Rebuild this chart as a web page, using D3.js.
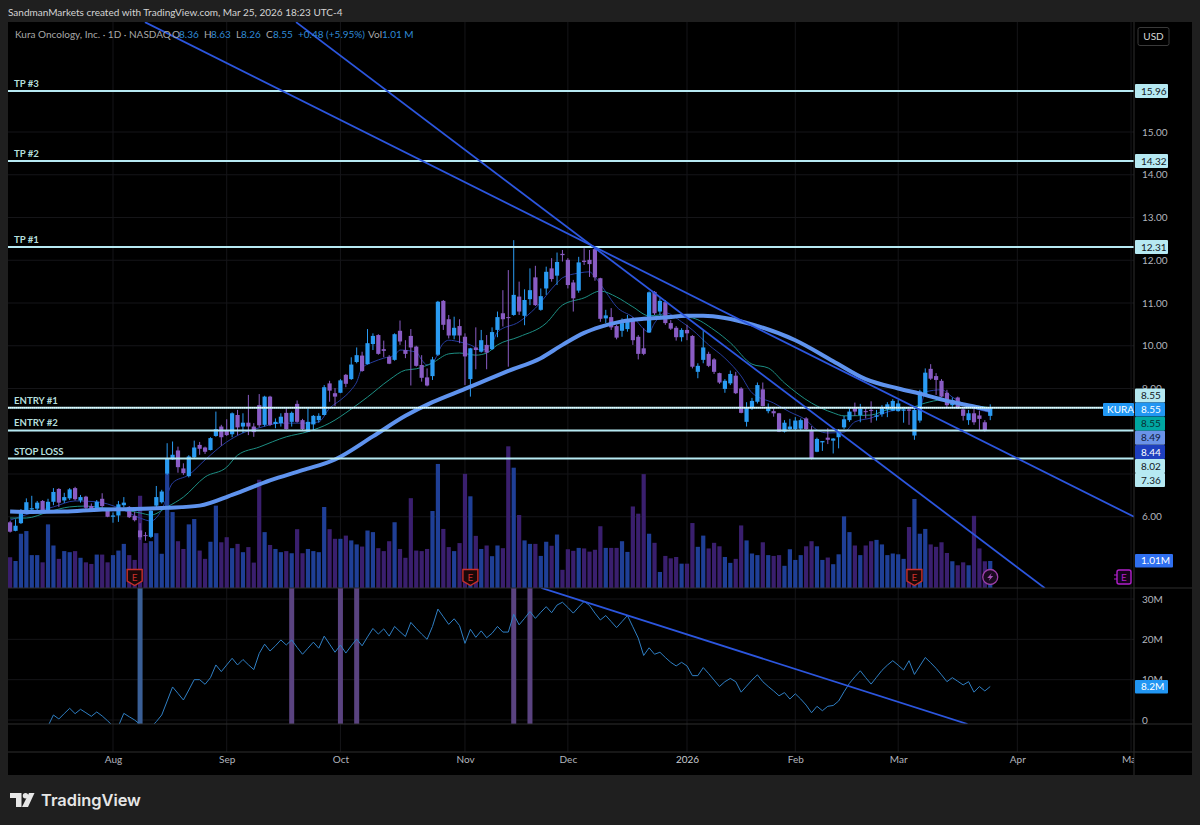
<!DOCTYPE html>
<html>
<head>
<meta charset="utf-8">
<title>KURA</title>
<script src="https://cdn.jsdelivr.net/npm/d3@7"></script>
<style>
  html, body { margin: 0; padding: 0; background: #1f1f1f; }
  svg { display: block; }
  text { font-family: Lato, sans-serif; }
</style>
</head>
<body>
<div id="chart"></div>
<script>
// Daily candles, first bar is Jul 7 2025, last is Mar 25 2026
var opens = [
  5.87,5.67,5.85,6.13,6.17,6.19,6.37,6.13,6.35,6.65,
  6.38,6.43,6.67,6.38,6.47,6.25,6.17,6.42,6.17,6.00,
  6.03,6.27,6.23,6.02,5.68,5.57,5.53,6.26,6.34,7.01,
  7.34,7.55,7.13,6.95,7.39,7.68,7.62,7.56,7.89,8.11,
  8.01,7.93,8.38,8.11,8.20,8.11,8.61,8.15,8.81,8.17,
  8.19,8.43,8.22,8.64,8.26,7.99,8.16,8.26,8.38,9.12,
  8.89,8.90,9.32,9.22,9.62,9.77,9.57,10.04,10.25,9.92,
  9.74,9.67,10.35,9.90,10.23,9.98,9.55,9.26,9.29,9.79,
  11.05,10.62,10.24,10.46,10.21,9.22,9.96,9.86,10.02,9.92,
  10.37,10.76,10.67,10.72,11.15,10.70,11.09,11.60,10.84,11.34,
  11.81,11.64,12.15,12.01,11.48,11.29,11.99,12.01,12.26,11.58,
  10.64,10.67,10.46,10.35,10.39,10.59,10.21,9.94,10.31,11.26,
  10.80,11.02,10.53,10.42,10.20,10.37,10.23,9.39,9.67,9.81,
  9.68,9.36,8.99,9.12,9.30,9.00,8.22,8.54,8.69,8.98,
  8.47,8.47,8.42,7.99,8.05,8.05,8.06,8.30,8.03,7.52,
  7.74,7.85,7.78,7.86,8.09,8.26,8.54,8.38,8.47,8.50,
  8.34,8.40,8.51,8.48,8.47,8.48,8.51,7.90,8.25,8.85,
  9.46,9.29,9.18,8.90,8.61,8.79,8.51,8.26,8.42,8.37,
  8.21,8.36];
var highs = [
  5.90,5.94,6.18,6.43,6.49,6.37,6.39,6.42,6.67,6.67,
  6.56,6.67,6.70,6.51,6.49,6.31,6.39,6.55,6.20,6.10,
  6.37,6.46,6.25,6.12,5.85,5.64,6.16,6.72,6.63,7.72,
  7.76,7.64,7.25,7.44,7.78,7.75,7.64,7.86,8.46,8.15,
  8.28,8.44,8.50,8.42,8.85,8.19,8.87,8.83,8.83,8.30,
  8.42,8.54,8.46,8.72,8.29,8.54,8.38,8.42,9.08,9.18,
  9.01,9.22,9.34,9.73,9.96,9.86,10.39,10.29,10.27,10.12,
  9.78,10.29,10.59,10.13,10.39,10.00,9.78,9.47,9.74,11.05,
  11.07,10.72,10.68,10.62,10.29,9.95,10.43,10.37,10.25,10.43,
  10.80,11.30,11.77,12.47,11.50,11.32,11.81,11.87,11.34,11.85,
  12.05,12.18,12.24,12.05,11.54,12.08,12.28,12.24,12.29,11.59,
  10.84,10.88,10.49,10.64,10.72,10.67,10.25,10.41,11.27,11.28,
  11.11,11.07,10.60,10.46,10.41,10.49,10.25,9.59,10.37,9.86,
  9.71,9.37,9.22,9.42,9.39,9.03,8.68,8.78,9.14,9.14,
  8.65,8.57,8.43,8.26,8.29,8.33,8.30,8.33,8.12,7.85,
  7.77,8.07,7.84,8.05,8.36,8.54,8.67,8.64,8.54,8.70,
  8.50,8.61,8.68,8.75,8.73,8.57,8.57,8.59,8.97,9.47,
  9.57,9.36,9.22,8.97,8.79,8.81,8.57,8.50,8.54,8.48,
  8.26,8.63];
var lows = [
  5.63,5.66,5.83,6.12,6.14,6.14,6.10,6.10,6.27,6.23,
  6.32,6.39,6.38,6.33,6.17,6.14,6.14,6.20,5.99,5.86,
  5.88,6.22,5.97,5.89,5.46,5.44,5.50,6.22,6.31,6.98,
  7.33,7.03,6.98,6.92,7.36,7.45,7.47,7.55,7.87,7.66,
  7.89,7.86,7.91,7.96,7.91,7.87,8.09,8.11,8.12,8.07,
  8.11,8.04,8.11,8.20,8.03,7.98,8.03,8.20,8.37,8.69,
  8.59,8.89,9.03,9.20,9.59,9.39,9.56,9.90,9.79,9.73,
  9.57,9.65,10.02,9.71,9.07,9.51,9.16,9.05,9.20,9.76,
  10.37,10.17,10.15,10.06,9.08,8.81,9.45,9.84,9.45,9.90,
  10.20,10.45,9.51,10.70,10.72,10.48,10.95,10.93,10.82,11.19,
  11.50,11.42,11.97,11.34,10.80,11.24,11.89,11.61,11.52,10.56,
  10.53,10.37,10.15,10.21,10.33,10.02,9.68,9.78,10.30,10.72,
  10.72,10.49,10.37,10.12,10.10,10.13,9.47,9.24,9.59,9.50,
  9.34,9.11,8.90,9.08,8.87,8.42,8.11,8.50,8.65,8.58,
  8.42,8.34,7.98,7.97,8.03,8.01,8.03,8.03,7.34,7.51,
  7.54,7.70,7.48,7.60,8.05,8.22,8.36,8.21,8.30,8.20,
  8.25,8.34,8.33,8.47,8.46,8.20,8.15,7.80,8.20,8.81,
  9.20,8.85,8.80,8.54,8.57,8.52,8.25,8.15,8.15,8.03,
  7.99,8.26];
var closes = [
  5.65,5.79,6.10,6.34,6.20,6.33,6.11,6.35,6.58,6.33,
  6.46,6.64,6.41,6.46,6.21,6.17,6.35,6.25,6.00,6.03,
  6.29,6.33,5.99,5.92,5.52,5.55,6.14,6.46,6.59,7.36,
  7.45,7.16,7.02,7.41,7.62,7.59,7.52,7.84,8.05,7.86,
  7.91,8.42,8.09,8.20,8.11,7.98,8.14,8.81,8.15,8.22,
  8.34,8.05,8.43,8.22,8.05,8.22,8.36,8.36,9.03,8.95,
  8.81,9.19,9.11,9.56,9.78,9.41,10.06,10.23,9.81,9.88,
  9.58,10.27,10.10,9.81,9.96,9.53,9.25,9.07,9.68,11.03,
  10.49,10.24,10.42,10.24,9.75,9.94,9.90,10.13,9.84,10.32,
  10.67,10.62,10.65,11.19,10.80,11.07,11.30,10.95,11.16,11.73,
  11.56,11.96,12.12,11.42,11.11,11.95,11.96,11.91,11.60,10.63,
  10.71,10.43,10.19,10.53,10.62,10.13,9.81,9.81,11.25,10.76,
  11.05,10.53,10.40,10.20,10.37,10.29,9.51,9.53,9.96,9.53,
  9.39,9.14,9.18,9.34,8.89,8.43,8.56,8.71,9.08,8.59,
  8.54,8.42,7.99,8.20,8.11,8.25,8.26,8.05,7.35,7.82,
  7.77,7.80,7.83,7.99,8.28,8.46,8.46,8.53,8.45,8.48,
  8.37,8.54,8.63,8.71,8.65,8.51,8.48,8.50,8.93,9.37,
  9.23,9.20,8.81,8.61,8.73,8.54,8.36,8.42,8.21,8.29,
  8.01,8.55];
// Volume in millions of shares
var volumes = [
  1.15,1.01,2.03,2.13,1.23,1.23,0.96,2.38,1.59,1.09,
  1.38,1.34,1.38,1.13,0.96,0.90,1.25,1.25,0.96,1.23,
  1.40,1.65,1.23,1.05,3.45,1.68,1.75,2.05,1.28,4.30,
  2.84,1.75,1.46,2.38,2.58,1.40,1.09,1.73,3.08,1.71,
  1.90,1.49,1.65,1.34,1.53,0.95,4.05,2.09,1.61,1.46,
  1.34,1.38,1.30,2.20,1.30,1.46,1.38,1.34,3.03,2.20,
  1.84,1.84,1.96,1.78,1.63,1.55,2.15,2.09,1.49,1.38,
  1.75,2.46,1.46,1.13,3.36,1.40,1.38,1.46,2.88,4.64,
  2.21,1.53,1.38,1.68,4.27,3.43,1.95,1.46,1.59,1.19,
  1.59,1.49,5.30,4.50,2.73,1.78,1.65,1.65,1.20,1.73,
  1.58,2.00,0.68,1.45,1.39,1.50,1.48,1.36,1.43,2.31,
  1.50,1.50,1.50,1.75,1.35,3.05,2.78,4.26,2.03,1.69,
  0.60,1.20,1.11,1.16,0.91,0.91,2.43,1.54,1.96,1.48,
  1.69,1.56,1.16,0.94,1.09,2.34,1.78,1.29,1.23,1.71,
  1.23,1.20,1.23,0.83,1.45,1.05,1.23,1.56,1.75,1.56,
  1.05,1.14,0.89,1.26,2.68,2.09,1.59,1.23,1.59,1.75,
  1.80,1.63,1.23,1.29,1.26,1.09,2.28,3.33,2.03,2.21,
  1.63,1.54,1.71,1.31,1.00,0.85,0.96,0.85,2.70,1.48,
  1.00,1.01];
// Lower pane line, in millions. Starts at bar 7
var lowerPane = [
  null,null,null,null,null,null,null,
  -1.5,1.24,0.25,1.6,2.9,1.57,2.65,1.8,0.91,1.99,1.0,-0.2,
  -1.5,-1.5,1.65,0.8,0,-1.1,-3.4,-1.74,-0.4,1.24,4.7,8.19,
  6.6,4.96,7.44,10.0,10.0,8.85,10.5,13.65,12.0,13.65,15.3,13.65,
  15.0,13.7,12.5,16.5,18.8,17.1,18.4,19.85,18.6,19.85,18.0,16.3,
  17.8,19.3,17.8,20.8,18.8,16.8,18.6,16.6,18.4,20.1,18.4,20.6,
  22.7,21.3,22.6,20.8,23.2,21.9,20.7,24.2,22.7,21.3,20.0,23.2,
  27.5,25.6,23.7,25.1,23.4,19.0,22.5,20.5,22.1,20.4,21.5,23.2,
  21.8,21.8,26.2,23.6,25.2,26.9,25.2,26.7,28.1,26.6,28.5,29.2,
  27.9,26.5,28.0,29.4,28.4,26.5,24.8,25.9,24.4,22.9,24.4,25.9,
  23.1,20.3,16.0,17.9,16.3,16.8,15.5,14.3,13.4,14.3,13.4,11.0,
  11.0,13.0,11.5,9.9,8.3,9.5,10.3,9.5,6.9,8.4,9.9,11.2,9.5,8.3,
  7.2,6.0,6.8,5.2,6.5,5.2,3.7,1.8,3.4,2.3,3.4,3.6,4.7,7.0,9.1,
  10.7,12.2,10.5,8.9,10.6,12.3,13.6,14.7,13.6,12.4,14.7,11.3,13.4,
  15.5,14.2,12.8,11.2,9.5,10.5,9.6,8.7,9.5,6.9,8.3,7.2,8.3];

// Moving averages at these bars
var maShortBars = [0,4,8,12,16,20,24,26,28,30,33,36,40,43,46,50,55,57,59,61,63,64,65,67,69,71,72,75,76,77,78,80,81,83,85,87,89,90,94,97,101,102,105,107,108,110,112,115,118,119,121,124,126,129,132,135,137,141,144,147,149,151,154,156,159,162,166,168,169,172,174,177,181];
var maShort = [5.92,6.09,6.23,6.37,6.35,6.21,5.97,5.90,6.16,6.79,6.98,7.33,7.75,7.96,8.08,8.19,8.19,8.22,8.54,8.73,8.97,9.15,9.48,9.62,9.71,9.78,9.90,9.85,9.67,9.55,9.60,10.06,10.13,10.09,10.02,9.90,10.06,10.32,10.56,10.88,11.47,11.59,11.70,11.73,11.61,11.26,10.91,10.67,10.32,10.53,10.77,10.56,10.37,10.02,9.71,9.29,8.90,8.66,8.45,8.26,8.03,7.96,7.98,8.22,8.31,8.45,8.54,8.54,8.92,8.97,8.80,8.59,8.44];
var maMidBars = [0,3,7,11,14,17,20,24,26,29,32,36,40,42,46,51,55,59,63,66,70,73,75,78,81,83,86,88,90,94,99,102,106,109,112,115,118,120,122,126,130,133,137,140,143,148,152,154,159,162,166,169,172,176,181];
var maMid = [5.97,5.97,6.11,6.23,6.25,6.21,6.18,6.09,6.04,6.23,6.46,6.93,7.16,7.44,7.63,7.87,7.99,8.19,8.52,8.80,9.20,9.43,9.46,9.60,9.81,9.83,9.78,9.83,10.02,10.21,10.53,10.95,11.12,11.28,11.14,10.91,10.70,10.72,10.70,10.65,10.37,10.07,9.57,9.48,9.13,8.66,8.43,8.36,8.38,8.50,8.54,8.66,8.73,8.64,8.55];
var maLongBars = [0,4,10,17,23,29,35,41,48,54,60,67,73,78,84,88,92,98,102,106,109,113,117,121,125,128,132,137,145,152,158,164,168,173,178,181];
var maLong = [6.12,6.11,6.12,6.17,6.18,6.21,6.26,6.51,6.85,7.09,7.34,7.88,8.36,8.68,8.99,9.20,9.41,9.71,10.02,10.30,10.44,10.57,10.63,10.66,10.70,10.70,10.65,10.50,10.13,9.64,9.22,9.00,8.88,8.71,8.58,8.49];

// Horizontal levels drawn on the chart
var levelNames = ["TP #3", "TP #2", "TP #1", "ENTRY #1", "ENTRY #2", "STOP LOSS"];
var levelPrices = [15.96, 14.32, 12.31, 8.55, 8.02, 7.36];

// Trend lines: bar and price at each end
var trendBarsA = [24.9, 207.55];
var trendPricesA = [17.57, 6.00];
var trendBarsB = [52.8, 191.1];
var trendPricesB = [17.57, 4.33];
var lowerTrendBars = [98.1, 176.8];
var lowerTrendValues = [32.75, -1];

// Axis ticks, 7 and 8 have a grid line but their labels sit behind the tags
var priceGrid = [6, 7, 8, 9, 10, 11, 12, 13, 14, 15];
var priceTicks = [6, 9, 10, 11, 12, 13, 14, 15];
var lowerTicks = [0, 10, 20, 30];
var lowerTickLabels = ["0", "10M", "20M", "30M"];
var timeBars = [19, 40, 61, 84, 103, 125, 145, 164, 186, 207];
var timeLabels = ["Aug", "Sep", "Oct", "Nov", "Dec", "2026", "Feb", "Mar", "Apr", "May"];

// Highlighted bars in the lower pane, and earnings flags
var highlightBars = [24, 52, 61, 64, 93, 96];
var highlightColors = ["#3a5f96", "#5a4380", "#5a4380", "#5a4380", "#5a4380", "#5a4380"];
var earningsBars = [23, 85, 167];

// Last value tags on the price axis
var tagValues = ["8.55", "8.55", "8.55", "8.49", "8.44", "8.02", "7.36"];
var tagFills = ["#b6e9f2", "#2196f3", "#00a7a2", "#6b93e8", "#1e3fbf", "#b6e9f2", "#b6e9f2"];
var tagInks = ["#131722", "#ffffff", "#0a2f33", "#101a3a", "#ffffff", "#131722", "#131722"];

var width = 1200, height = 825;
var paneLeft = 8, paneRight = 1134, frameRight = 1192;
var paneTop = 22, volBottom = 588, lowerBottom = 724, timeTop = 752, frameBottom = 775;

var upColor = "#2a9bf2", downColor = "#8a5cc4";
var volUp = "#1f3f96", volDown = "#3a1f6e";
var levelColor = "#b6e9f2", trendColor = "#2c56de";
var labelColor = "#b2b5be";
var fontSize = 10;

var svg = d3.select("#chart").append("svg").attr("width", width).attr("height", height);

// Scales
var x = d3.scaleLinear().domain([19, 125]).range([113, 687]);
var y = d3.scaleLinear().domain([15, 6]).range([132, 516.75]);
var volY = d3.scaleLinear().domain([0, 1.01]).range([volBottom, 561]);
var lowerY = d3.scaleLinear().domain([0, 30]).range([720, 599]);

// Chart frame
svg.append("rect").attr("x", paneLeft).attr("y", paneTop)
  .attr("width", frameRight - paneLeft).attr("height", frameBottom - paneTop).attr("fill", "#000");

var defs = svg.append("defs");
defs.append("clipPath").attr("id", "mainClip").append("rect")
  .attr("x", paneLeft).attr("y", paneTop).attr("width", paneRight - paneLeft).attr("height", volBottom - paneTop);
defs.append("clipPath").attr("id", "lowerClip").append("rect")
  .attr("x", paneLeft).attr("y", volBottom).attr("width", paneRight - paneLeft).attr("height", lowerBottom - volBottom);
defs.append("clipPath").attr("id", "timeClip").append("rect")
  .attr("x", paneLeft).attr("y", -4).attr("width", paneRight - paneLeft).attr("height", 23);

// Grid
var grid = svg.append("g").attr("stroke", "#151518").attr("stroke-width", 1);
grid.selectAll(".gv").data(timeBars).enter().append("line")
  .attr("x1", d => x(d)).attr("x2", d => x(d)).attr("y1", paneTop).attr("y2", timeTop);
grid.selectAll(".gh").data(priceGrid).enter().append("line")
  .attr("x1", paneLeft).attr("x2", paneRight).attr("y1", d => y(d)).attr("y2", d => y(d));
grid.selectAll(".gl").data(lowerTicks).enter().append("line")
  .attr("x1", paneLeft).attr("x2", paneRight).attr("y1", d => lowerY(d)).attr("y2", d => lowerY(d));

// Main pane
var main = svg.append("g").attr("clip-path", "url(#mainClip)");

main.selectAll(".vol").data(volumes).enter().append("rect")
  .attr("x", (d, i) => x(i) - 2.1).attr("width", 4.2)
  .attr("y", d => volY(d)).attr("height", d => volBottom - volY(d))
  .attr("fill", (d, i) => closes[i] >= opens[i] ? volUp : volDown);

function drawMa(bars, values, color, w) {
  var line = d3.line().x((d, i) => x(bars[i])).y(d => y(d)).curve(d3.curveMonotoneX);
  main.append("path").attr("d", line(values)).attr("fill", "none")
    .attr("stroke", color).attr("stroke-width", w).attr("stroke-linejoin", "round");
}
drawMa(maShortBars, maShort, "#263c9e", 1);
drawMa(maMidBars, maMid, "#1d8f84", 1);

main.selectAll(".wick").data(closes).enter().append("line")
  .attr("x1", (d, i) => x(i)).attr("x2", (d, i) => x(i))
  .attr("y1", (d, i) => y(highs[i])).attr("y2", (d, i) => y(lows[i]))
  .attr("stroke", (d, i) => d >= opens[i] ? upColor : downColor).attr("stroke-width", 1);
main.selectAll(".body").data(closes).enter().append("rect")
  .attr("x", (d, i) => x(i) - 2.1).attr("width", 4.2)
  .attr("y", (d, i) => y(Math.max(d, opens[i])))
  .attr("height", (d, i) => Math.max(1, Math.abs(y(d) - y(opens[i]))))
  .attr("fill", (d, i) => d >= opens[i] ? upColor : downColor);

drawMa(maLongBars, maLong, "#5f93ee", 4);

// Levels and their names
main.selectAll(".level").data(levelPrices).enter().append("line")
  .attr("x1", paneLeft).attr("x2", paneRight).attr("y1", d => y(d)).attr("y2", d => y(d))
  .attr("stroke", levelColor).attr("stroke-width", 2);
main.append("line").attr("x1", paneLeft).attr("x2", paneRight)
  .attr("y1", y(closes[181])).attr("y2", y(closes[181]))
  .attr("stroke", "#ffffff").attr("stroke-width", 1).attr("stroke-dasharray", "1 1");
main.selectAll(".levelName").data(levelNames).enter().append("text")
  .attr("x", 14).attr("y", (d, i) => y(levelPrices[i]) - 4)
  .attr("font-size", 9.6).attr("font-weight", 700).attr("fill", "#b5dfdc").text(d => d);

// Trend lines
var priceTrend = d3.line().x(d => x(d[0])).y(d => y(d[1]));
[[trendBarsA, trendPricesA], [trendBarsB, trendPricesB]].forEach(function (t) {
  main.append("path").attr("d", priceTrend(d3.zip(t[0], t[1])))
    .attr("fill", "none").attr("stroke", trendColor).attr("stroke-width", 1.8);
});

// Earnings flags and the lightning marker
function shield(g, color, fill) {
  g.append("path").attr("d", "M-7.5,-7.5 H7.5 V4 L0,8.5 L-7.5,4 Z")
    .attr("fill", fill).attr("stroke", color).attr("stroke-width", 1.4);
  g.append("text").attr("text-anchor", "middle").attr("y", 3.5)
    .attr("font-size", 10).attr("fill", color).text("E");
}
earningsBars.forEach(function (b) {
  shield(main.append("g").attr("transform", "translate(" + x(b) + ",577)"), "#c9302c", "#1a0808");
});
var flash = main.append("g").attr("transform", "translate(" + x(181) + ",577)");
flash.append("circle").attr("r", 7.5).attr("fill", "#1a0a20").attr("stroke", "#9c3fa8").attr("stroke-width", 1.3);
flash.append("path").attr("d", "M1.5,-4 L-3,1 H-0.3 L-1.5,4 L3,-1 H0.3 Z").attr("fill", "#a44fb4");

var futureFlag = main.append("g").attr("transform", "translate(1124,577)");
futureFlag.append("rect").attr("x", -7).attr("y", -7).attr("width", 14).attr("height", 14).attr("rx", 2)
  .attr("fill", "#14041a").attr("stroke", "#b01fc9").attr("stroke-width", 1.4);
futureFlag.append("text").attr("text-anchor", "middle").attr("y", 3.5)
  .attr("font-size", 10).attr("fill", "#b01fc9").text("E");
futureFlag.append("path").attr("d", "M-10,-2 H-7 M-10,2 H-7").attr("stroke", "#b01fc9").attr("stroke-width", 1.2);

// Lower pane
var lower = svg.append("g").attr("clip-path", "url(#lowerClip)");
lower.selectAll(".hl").data(highlightBars).enter().append("rect")
  .attr("x", d => x(d) - 2.5).attr("width", 5)
  .attr("y", volBottom).attr("height", lowerBottom - volBottom)
  .attr("fill", (d, i) => highlightColors[i]);
var lowerLine = d3.line().defined(d => d !== null).x((d, i) => x(i)).y(d => lowerY(d));
lower.append("path").attr("d", lowerLine(lowerPane)).attr("fill", "none")
  .attr("stroke", "#2f7fc4").attr("stroke-width", 1);
var lowerTrend = d3.line().x(d => x(d[0])).y(d => lowerY(d[1]));
lower.append("path").attr("d", lowerTrend(d3.zip(lowerTrendBars, lowerTrendValues)))
  .attr("fill", "none").attr("stroke", trendColor).attr("stroke-width", 1.8);

// Separators
var seps = svg.append("g").attr("stroke", "#2e2e2e").attr("stroke-width", 1);
[volBottom, lowerBottom, timeTop].forEach(function (v) {
  seps.append("line").attr("x1", paneLeft).attr("x2", frameRight).attr("y1", v).attr("y2", v);
});
seps.append("line").attr("x1", paneRight).attr("x2", paneRight).attr("y1", paneTop).attr("y2", frameBottom);

// Price axis
var priceAxis = svg.append("g").attr("transform", "translate(" + paneRight + ",0)")
  .call(d3.axisRight(y).tickValues(priceTicks).tickSize(0).tickPadding(8).tickFormat(d3.format(".2f")));
priceAxis.select(".domain").remove();
priceAxis.selectAll("text").attr("fill", labelColor).attr("font-size", fontSize)
  .style("font-family", "Lato, sans-serif");

// Lower pane axis
var lowerAxis = svg.append("g").attr("transform", "translate(" + paneRight + ",0)")
  .call(d3.axisRight(lowerY).tickValues(lowerTicks).tickSize(0).tickPadding(8)
    .tickFormat((d, i) => lowerTickLabels[i]));
lowerAxis.select(".domain").remove();
lowerAxis.selectAll("text").attr("fill", labelColor).attr("font-size", fontSize)
  .style("font-family", "Lato, sans-serif");

// Time axis
var timeAxis = svg.append("g").attr("transform", "translate(0,756)")
  .attr("clip-path", "url(#timeClip)")
  .call(d3.axisBottom(x).tickValues(timeBars).tickSize(0).tickPadding(0)
    .tickFormat((d, i) => timeLabels[i]));
timeAxis.select(".domain").remove();
timeAxis.selectAll("text").attr("fill", labelColor).attr("font-size", fontSize)
  .style("font-family", "Lato, sans-serif");
timeAxis.selectAll("text").filter(d => d === 125).attr("fill", "#c8cad0");

// Tags on the price axis
function tag(g, tx, ty, w, h, fill, ink, label, anchorX) {
  g.append("rect").attr("x", tx).attr("y", ty).attr("width", w).attr("height", h)
    .attr("rx", 1).attr("fill", fill);
  g.append("text").attr("x", anchorX).attr("y", ty + h / 2 + 3.6)
    .attr("font-size", fontSize).attr("fill", ink).text(label);
}
var tags = svg.append("g");
tagValues.forEach(function (v, i) {
  tag(tags, 1135, 388.5 + i * 14.1, 30, 14, tagFills[i], tagInks[i], v, 1141);
});
[0, 1, 2].forEach(function (i) {
  var ly = y(levelPrices[i]);
  tag(tags, 1135, ly - 7, 33, 14, "#b6e9f2", "#131722", levelPrices[i].toFixed(2), 1141);
});
tag(tags, 1103, 403, 31, 13, "#2196f3", "#ffffff", "KURA", 1107);
tag(tags, 1135, 554, 38, 13.5, "#2f6ff0", "#ffffff", "1.01M", 1141);
tag(tags, 1135, 680, 33, 13.5, "#2196f3", "#ffffff", "8.2M", 1141);

// USD button
svg.append("rect").attr("x", 1138).attr("y", 27.5).attr("width", 31).attr("height", 18).attr("rx", 2)
  .attr("fill", "none").attr("stroke", "#3a3a3a");
svg.append("text").attr("x", 1153.5).attr("y", 40).attr("text-anchor", "middle")
  .attr("font-size", fontSize).attr("fill", "#d6d6d6").text("USD");

// Header text
svg.append("text").attr("x", 8).attr("y", 16).attr("font-size", fontSize).attr("fill", "#d4d4d4")
  .text("SandmanMarkets created with TradingView.com, Mar 25, 2026 18:23 UTC-4");

// Legend row
var legendBlue = "#2f8ad6";
var legendText = ["Kura Oncology, Inc. · 1D · NASDAQ", "O", "8.36", "H", "8.63", "L", "8.26", "C", "8.55", "+0.48 (+5.95%)", "Vol", "1.01 M"];
var legendX = [15, 172, 179, 204, 211, 236, 241, 266, 273, 298, 368, 382];
var legendInk = ["#a8a8a8", "#a8a8a8", legendBlue, "#a8a8a8", legendBlue, "#a8a8a8", legendBlue, "#a8a8a8", legendBlue, legendBlue, "#a8a8a8", legendBlue];
svg.selectAll(".legend").data(legendText).enter().append("text")
  .attr("x", (d, i) => legendX[i]).attr("y", 38).attr("font-size", fontSize)
  .attr("fill", (d, i) => legendInk[i]).text(d => d);

// Watermark at the bottom
var logo = svg.append("g").attr("fill", "#e6e6e6");
logo.append("path").attr("d", "M10,793 H21.5 V807 H16 V798 H10 Z");
logo.append("circle").attr("cx", 25.5).attr("cy", 795.8).attr("r", 2.7);
logo.append("path").attr("d", "M29,793 H34.5 L28,807 H22 Z");
svg.append("text").attr("x", 41).attr("y", 806).attr("font-size", 16.4).attr("font-weight", 600)
  .style("font-family", "Inter, sans-serif").attr("fill", "#e6e6e6").text("TradingView");
</script>
</body>
</html>
